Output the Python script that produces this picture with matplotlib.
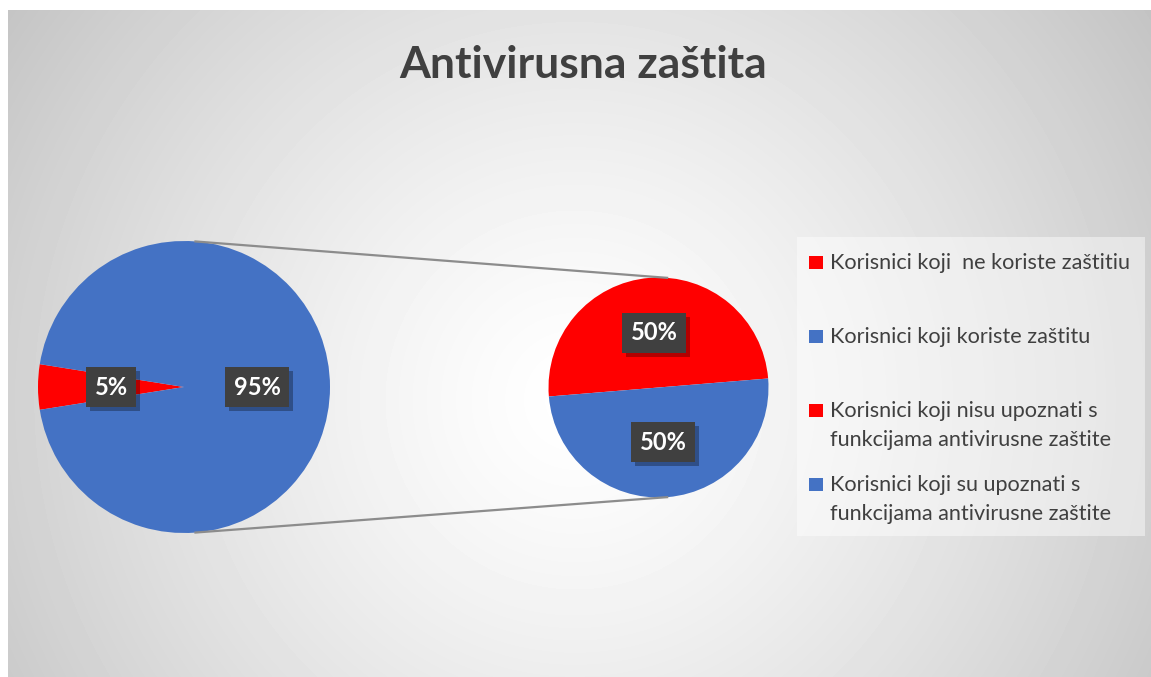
import numpy as np
import matplotlib.pyplot as plt
from matplotlib.patches import Rectangle
import matplotlib.patheffects as pe

plt.rcParams['font.family'] = ['Lato', 'DejaVu Sans']

W, H = 1151, 677

title = 'Antivirusna zaštita'
left_labels = ['Korisnici koji  ne koriste zaštitiu', 'Korisnici koji koriste zaštitu']
left_values = [5, 95]
right_labels = ['Korisnici koji nisu upoznati s\nfunkcijama antivirusne zaštite',
                'Korisnici koji su upoznati s\nfunkcijama antivirusne zaštite']
right_values = [50, 50]
colors = ['#ff0000', '#4472c4']

fig = plt.figure(figsize=(W / 100, H / 100), dpi=100)
fig.patch.set_facecolor('white')
ax = fig.add_axes([0, 0, 1, 1])

# radial gradient background of the chart area
xs = np.arange(8, W) + 0.5
ys = np.arange(10, H) + 0.5
X, Y = np.meshgrid(xs, ys)
d = np.hypot(X - 575, Y - 400) / 700
bg = 1 - 0.235 * np.clip(d, 0, 1.2) ** 1.3
ax.imshow(bg, cmap='gray', vmin=0, vmax=1, extent=[8, W, 0, H - 10],
          origin='upper', interpolation='bilinear', zorder=0)

lc, lr = (184, H - 387), 146
rc, rr = (658.5, H - 387.5), 110


def style_labels(texts):
    for t in texts:
        t.set_color('white')
        t.set_fontsize(17)
        t.set_fontweight('bold')
        t.set_bbox(dict(boxstyle='square,pad=0.36', facecolor='#404040',
                        edgecolor='none', linewidth=0))
        t.get_bbox_patch().set_path_effects(
            [pe.withSimplePatchShadow(offset=(3, -3), shadow_rgbFace='black', alpha=0.3),
             pe.Normal()])


lw, _, lt = ax.pie(left_values, colors=colors, startangle=171, center=lc, radius=lr,
                   autopct='%.0f%%', pctdistance=0.5, wedgeprops=dict(linewidth=0))
rw, _, rt = ax.pie(right_values, colors=colors, startangle=4.7, center=rc, radius=rr,
                   autopct='%.0f%%', pctdistance=0.5, wedgeprops=dict(linewidth=0))
style_labels(lt)
style_labels(rt)

# connector lines between the pies
a = np.deg2rad(85.5)
for s in (1, -1):
    ax.plot([lc[0] + lr * np.cos(a), rc[0] + rr * np.cos(a)],
            [lc[1] + s * lr * np.sin(a), rc[1] + s * rr * np.sin(a)],
            color='#8c8c8c', linewidth=1.6, zorder=1)

ax.text(583.5, H - 78, title, ha='center', va='baseline', fontsize=32,
        fontweight='bold', color='#404040')

# legend
ax.add_patch(Rectangle((797, H - 536), 348, 299, facecolor='white', alpha=0.45,
                       edgecolor='none', zorder=2))
legend_labels = left_labels + right_labels
legend_colors = colors + colors
baselines = [269, 343, 417, 491]
for lab, col, b in zip(legend_labels, legend_colors, baselines):
    ax.add_patch(Rectangle((809, H - b), 14, 13, facecolor=col, edgecolor='none', zorder=3))
    for i, line in enumerate(lab.split('\n')):
        ax.text(830, H - b - i * 28.5, line, ha='left', va='baseline', fontsize=15.6,
                color='#404040', zorder=3)

ax.set_xlim(0, W)
ax.set_ylim(0, H)
ax.set_aspect('equal')
ax.axis('off')

fig.savefig('out.png', dpi=100, facecolor=fig.get_facecolor())
